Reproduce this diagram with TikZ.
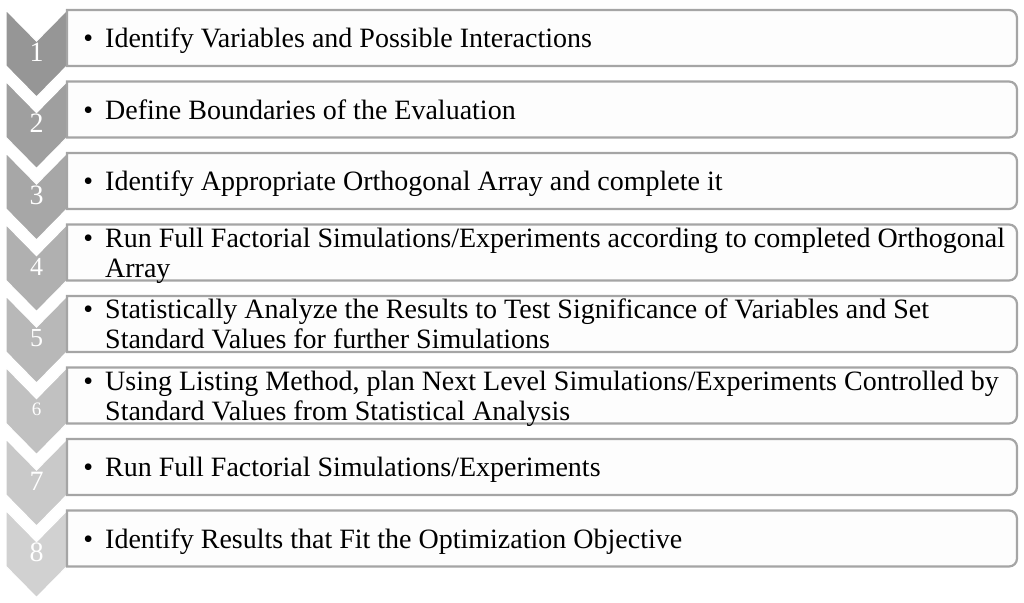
\documentclass[tikz,border=0pt]{standalone}
\usepackage{fontspec}
\setmainfont{Liberation Serif}
\definecolor{boxgray}{RGB}{165,165,165}
\definecolor{boxfill}{RGB}{253,253,253}
\newcommand{\bul}{\strut\llap{\textbullet\hspace{12pt}}}
\begin{document}
\begin{tikzpicture}[x=1pt,y=-1pt,
  chev/.style={draw=white,line width=1.2pt},
  stepbox/.style={draw=boxgray,line width=2.2pt,fill=boxfill},
  num/.style={text=white,inner sep=0pt},
  txt/.style={anchor=west,align=left,inner sep=0pt,font=\fontsize{28}{30}\selectfont}]
\useasboundingbox (0,0) rectangle (1024,602);
\foreach \i/\ns/\txt in {
  1/28/{\bul Identify Variables and Possible Interactions\strut},
  2/28/{\bul Define Boundaries of the Evaluation\strut},
  3/28/{\bul Identify Appropriate Orthogonal Array and complete it\strut},
  4/26/{\bul Run Full Factorial Simulations/Experiments according to completed Orthogonal\\Array\strut},
  5/26/{\bul Statistically Analyze the Results to Test Significance of Variables and Set\\Standard Values for further Simulations\strut},
  6/19/{\bul Using Listing Method, plan Next Level Simulations/Experiments Controlled by\\Standard Values from Statistical Analysis\strut},
  7/28/{\bul Run Full Factorial Simulations/Experiments\strut},
  8/28/{\bul Identify Results that Fit the Optimization Objective\strut}}{
  \pgfmathsetmacro{\t}{10+71.5*(\i-1)}
  \pgfmathsetmacro{\pct}{41-(\i-1)*3.3}
  % chevron
  \draw[chev,fill=black!\pct] (6,\t) -- (36.5,\t+31) -- (67,\t) -- (67,\t+56) -- (36.5,\t+87) -- (6,\t+56) -- cycle;
  \node[num,font=\fontsize{\ns}{\ns}\selectfont] (n\i) at (36.5,\t+42) {\i};
  % box
  \draw[stepbox] (67,\t) -- (1009,\t) arc[start angle=-90,end angle=0,radius=8]
     -- (1017,\t+48) arc[start angle=0,end angle=90,radius=8] -- (67,\t+56) -- cycle;
  \node[txt] (t\i) at (105,\t+31.5) {\txt};
}
\end{tikzpicture}
\end{document}
